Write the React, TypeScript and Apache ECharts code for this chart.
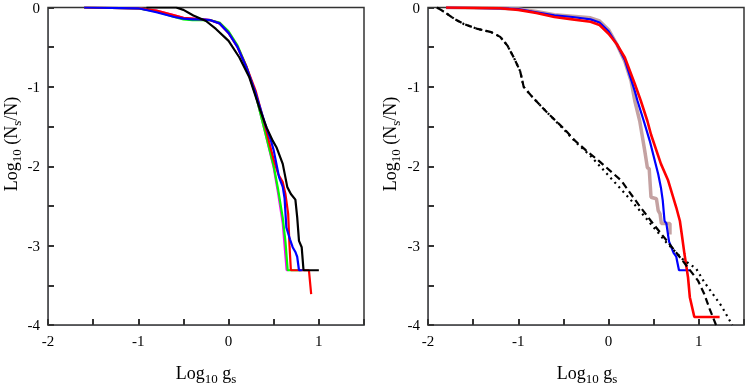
import React, { useEffect, useRef } from 'react';
import * as echarts from 'echarts';

// tick labels
const xTickLabels = ['-2', '-1', '0', '1'];
const yTickLabels = ['0', '-1', '-2', '-3', '-4'];

// left panel series: [log10 gs, log10 Ns/N]
const leftMagenta = [[-1.6,0],[-1.0,-0.01],[-0.8,-0.04],[-0.6,-0.1],[-0.5,-0.13],[-0.3,-0.15],[-0.2,-0.16],[-0.1,-0.2],[0,-0.32],[0.1,-0.5],[0.2,-0.76],[0.3,-1.1],[0.4,-1.55],[0.5,-2.02],[0.55,-2.35],[0.6,-2.72],[0.643,-3.31],[0.66,-3.31]];
const leftGreen = [[-1.6,0],[-1.0,-0.01],[-0.8,-0.05],[-0.6,-0.12],[-0.5,-0.15],[-0.4,-0.16],[-0.3,-0.16],[-0.2,-0.16],[-0.1,-0.19],[0,-0.3],[0.1,-0.48],[0.2,-0.75],[0.3,-1.1],[0.4,-1.55],[0.5,-2.0],[0.55,-2.3],[0.6,-2.65],[0.63,-2.95],[0.655,-3.31],[0.8,-3.31]];
const leftRed = [[-1.6,0],[-1.0,-0.01],[-0.8,-0.04],[-0.6,-0.1],[-0.5,-0.13],[-0.4,-0.14],[-0.3,-0.15],[-0.2,-0.16],[-0.1,-0.2],[0,-0.32],[0.1,-0.5],[0.2,-0.75],[0.3,-1.05],[0.4,-1.47],[0.45,-1.7],[0.5,-1.92],[0.55,-2.1],[0.6,-2.2],[0.63,-2.35],[0.66,-2.6],[0.675,-3.0],[0.69,-3.31],[0.89,-3.31],[0.915,-3.61]];
const leftBlue = [[-1.6,0],[-1.0,-0.01],[-0.8,-0.06],[-0.6,-0.12],[-0.5,-0.14],[-0.4,-0.15],[-0.3,-0.15],[-0.2,-0.16],[-0.1,-0.2],[0,-0.32],[0.1,-0.5],[0.2,-0.76],[0.3,-1.08],[0.4,-1.45],[0.47,-1.68],[0.5,-1.8],[0.56,-2.14],[0.6,-2.26],[0.62,-2.4],[0.64,-2.77],[0.68,-2.92],[0.71,-3.02],[0.74,-3.08],[0.76,-3.14],[0.78,-3.31],[0.82,-3.31]];
const leftBlack = [[-0.91,0],[-0.58,0],[-0.5,-0.03],[-0.39,-0.1],[-0.25,-0.17],[-0.14,-0.27],[0,-0.42],[0.12,-0.63],[0.23,-0.88],[0.34,-1.26],[0.42,-1.51],[0.49,-1.68],[0.53,-1.76],[0.6,-1.97],[0.65,-2.26],[0.69,-2.35],[0.74,-2.42],[0.76,-2.64],[0.78,-2.94],[0.81,-3.02],[0.83,-3.31],[1.0,-3.31]];

// right panel series
const rightBrown = [[-1.8,0],[-1.2,-0.01],[-1.0,-0.02],[-0.8,-0.05],[-0.6,-0.09],[-0.4,-0.11],[-0.2,-0.13],[-0.1,-0.17],[0,-0.28],[0.09,-0.46],[0.18,-0.68],[0.25,-0.93],[0.29,-1.175],[0.345,-1.43],[0.40,-1.80],[0.43,-2.02],[0.45,-2.03],[0.47,-2.39],[0.53,-2.41],[0.55,-2.56],[0.57,-2.6],[0.585,-2.72],[0.68,-2.72],[0.68,-2.86]];
const rightBlue = [[-1.8,0],[-1.2,-0.01],[-1.0,-0.02],[-0.8,-0.06],[-0.6,-0.1],[-0.4,-0.12],[-0.2,-0.15],[-0.1,-0.19],[0,-0.3],[0.09,-0.46],[0.18,-0.66],[0.29,-1.05],[0.32,-1.175],[0.39,-1.43],[0.456,-1.68],[0.55,-2.1],[0.58,-2.27],[0.6,-2.43],[0.62,-2.69],[0.64,-2.72],[0.67,-2.95],[0.72,-3.09],[0.75,-3.14],[0.76,-3.2],[0.78,-3.31],[0.9,-3.31]];
const rightRed = [[-1.8,0],[-1.2,-0.01],[-1.0,-0.03],[-0.8,-0.07],[-0.6,-0.12],[-0.4,-0.15],[-0.2,-0.18],[-0.1,-0.22],[0,-0.33],[0.09,-0.46],[0.18,-0.63],[0.29,-0.96],[0.357,-1.175],[0.43,-1.43],[0.47,-1.6],[0.58,-1.97],[0.66,-2.18],[0.75,-2.52],[0.79,-2.69],[0.81,-2.85],[0.84,-3.1],[0.88,-3.4],[0.9,-3.65],[0.95,-3.9],[1.23,-3.9]];
const rightDashed = [[-1.9,0],[-1.8,-0.07],[-1.7,-0.15],[-1.6,-0.21],[-1.45,-0.27],[-1.3,-0.31],[-1.2,-0.37],[-1.12,-0.48],[-1.05,-0.63],[-0.98,-0.8],[-0.94,-1.0],[-0.85,-1.12],[-0.75,-1.24],[-0.665,-1.34],[-0.5,-1.52],[-0.37,-1.68],[-0.25,-1.8],[-0.11,-1.93],[0.14,-2.18],[0.33,-2.48],[0.47,-2.69],[0.66,-2.96],[0.82,-3.19],[0.99,-3.44],[1.06,-3.61],[1.12,-3.8],[1.19,-4.0]];
const rightDotted = [[-1.9,0],[-1.8,-0.07],[-1.7,-0.15],[-1.6,-0.21],[-1.45,-0.27],[-1.3,-0.31],[-1.2,-0.37],[-1.12,-0.48],[-1.05,-0.63],[-0.98,-0.8],[-0.94,-1.0],[-0.85,-1.12],[-0.75,-1.24],[-0.665,-1.34],[-0.5,-1.53],[-0.37,-1.69],[-0.2,-1.87],[0.05,-2.18],[0.25,-2.43],[0.47,-2.73],[0.64,-2.96],[0.82,-3.17],[0.97,-3.29],[1.06,-3.46],[1.25,-3.76],[1.37,-4.0]];

const FONT = 'Liberation Serif';
const AXIS_COLOR = '#333';

const labelFmt = (labels: string[]) => (v: number) => {
  const s = String(Math.round(v * 1000) / 1000);
  return labels.includes(s) ? s : '';
};

function xAx(gridIndex: number) {
  return {
    type: 'value', gridIndex, min: -2, max: 1.5, interval: 0.5,
    axisLine: { show: true, onZero: false },
    axisTick: { show: true, inside: true, length: 6, lineStyle: { color: AXIS_COLOR, width: 2 } },
    axisLabel: { fontSize: 15, fontFamily: FONT, color: '#000', formatter: labelFmt(xTickLabels) },
    splitLine: { show: false },
  };
}
function yAx(gridIndex: number) {
  return {
    type: 'value', gridIndex, min: -4, max: 0, interval: 0.5,
    axisLine: { show: true, onZero: false },
    axisTick: { show: true, inside: true, length: 6, lineStyle: { color: AXIS_COLOR, width: 2 } },
    axisLabel: { fontSize: 15, fontFamily: FONT, color: '#000', formatter: labelFmt(yTickLabels) },
    splitLine: { show: false },
  };
}

function line(data: number[][], color: string, width: number, idx: number, type: any = 'solid') {
  return {
    type: 'line', data, xAxisIndex: idx, yAxisIndex: idx, showSymbol: false,
    lineStyle: { color, width, type },
  };
}

const rich = {
  m: { fontFamily: FONT, fontSize: 18, lineHeight: 24, verticalAlign: 'middle', fill: '#000' },
  s: { fontFamily: FONT, fontSize: 13, lineHeight: 14, verticalAlign: 'bottom', fill: '#000' },
};
const xTitle = '{m|Log}{s|10}{m| g}{s|s}';
const yTitle = '{m|Log}{s|10}{m| (N}{s|s}{m|/N)}';

export default function App() {
  const ref = useRef<HTMLDivElement>(null);
  useEffect(() => {
    const chart = echarts.init(ref.current!, null, { renderer: 'svg' });
    const option: any = {
      animation: false,
      grid: [
        { left: 48, top: 7, width: 316, height: 318, show: true, borderColor: AXIS_COLOR, borderWidth: 1.5 },
        { left: 428, top: 7, width: 317.5, height: 318, show: true, borderColor: AXIS_COLOR, borderWidth: 1.5 },
      ],
      xAxis: [xAx(0), xAx(1)],
      yAxis: [yAx(0), yAx(1)],
      series: [
        line(leftMagenta, '#ff00ff', 2.2, 0),
        line(leftGreen, '#00ff00', 2.2, 0),
        line(leftRed, '#ff0000', 2.2, 0),
        line(leftBlue, '#0000ff', 2.2, 0),
        line(leftBlack, '#000000', 2.2, 0),
        line(rightBrown, '#c4a2a2', 3.5, 1),
        line(rightBlue, '#0000ff', 2.2, 1),
        line(rightRed, '#ff0000', 2.6, 1),
        line(rightDotted, '#000000', 2.2, 1, [2, 4]),
        line(rightDashed, '#000000', 2.2, 1, [7, 4]),
      ],
      graphic: [
        { type: 'text', x: 206, y: 373, style: { text: xTitle, rich, align: 'center', verticalAlign: 'middle' } },
        { type: 'text', x: 587, y: 373, style: { text: xTitle, rich, align: 'center', verticalAlign: 'middle' } },
        { type: 'text', x: 11, y: 144, rotation: Math.PI / 2, style: { text: yTitle, rich, align: 'center', verticalAlign: 'middle' } },
        { type: 'text', x: 390, y: 144, rotation: Math.PI / 2, style: { text: yTitle, rich, align: 'center', verticalAlign: 'middle' } },
      ],
    };
    chart.setOption(option);
    return () => chart.dispose();
  }, []);
  return <div ref={ref} style={{ position: 'fixed', left: 0, top: 0, width: 747, height: 387 }} />;
}
